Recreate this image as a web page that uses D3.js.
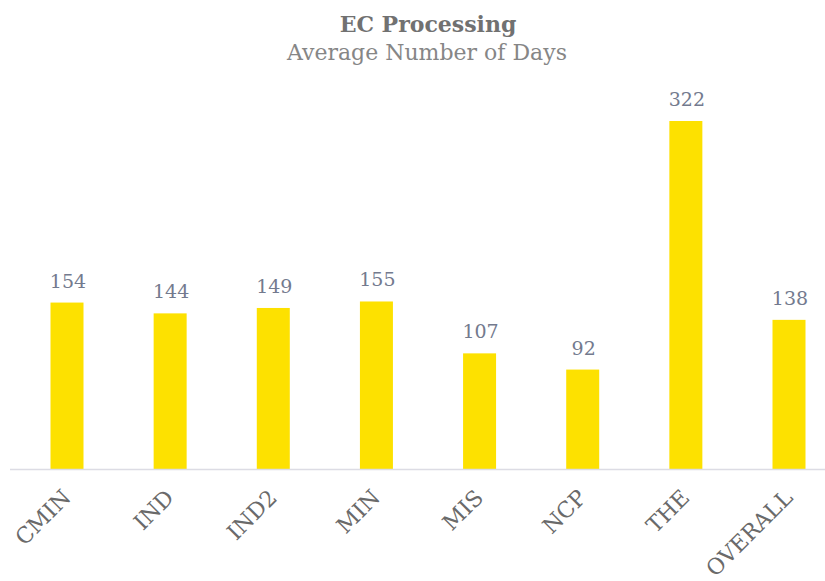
<!DOCTYPE html>
<html>
<head>
<meta charset="utf-8">
<script src="https://cdn.jsdelivr.net/npm/d3@7"></script>
<style>
  body { margin: 0; background: #fff; }
  svg { display: block; }
</style>
</head>
<body>
<svg id="chart" width="825" height="581"></svg>
<script>
var categories = ["CMIN", "IND", "IND2", "MIN", "MIS", "NCP", "THE", "OVERALL"],
    days = [154, 144, 149, 155, 107, 92, 322, 138];

var width = 825,
    height = 581,
    baseY = 469,
    topY = 121,
    barWidth = 33,
    serif = "'DejaVu Serif', 'Liberation Serif', serif";

var svg = d3.select("#chart");

var x = d3.scalePoint()
    .domain(categories)
    .range([67, 789]);

var y = d3.scaleLinear()
    .domain([0, d3.max(days)])
    .range([baseY, topY]);

var data = categories.map(function(c, i) { return { cat: c, val: days[i] }; });

// title
svg.append("text")
    .attr("x", 428)
    .attr("y", 32)
    .attr("text-anchor", "middle")
    .attr("font-family", serif)
    .attr("font-weight", "bold")
    .attr("font-size", "22px")
    .attr("fill", "#717171")
    .text("EC Processing");

svg.append("text")
    .attr("x", 427)
    .attr("y", 60)
    .attr("text-anchor", "middle")
    .attr("font-family", serif)
    .attr("font-size", "22px")
    .attr("fill", "#868686")
    .text("Average Number of Days");

// bars
svg.selectAll("rect.bar")
    .data(data)
    .enter()
    .append("rect")
    .attr("class", "bar")
    .attr("x", function(d) { return x(d.cat) - barWidth / 2; })
    .attr("y", function(d) { return y(d.val); })
    .attr("width", barWidth)
    .attr("height", function(d) { return baseY - y(d.val); })
    .attr("fill", "#fde100");

// baseline
svg.append("line")
    .attr("x1", 10)
    .attr("x2", 825)
    .attr("y1", baseY + 0.5)
    .attr("y2", baseY + 0.5)
    .attr("stroke", "#dcdce4")
    .attr("stroke-width", 1.5);

// value labels
svg.selectAll("text.val")
    .data(data)
    .enter()
    .append("text")
    .attr("class", "val")
    .attr("x", function(d) { return x(d.cat) + 1; })
    .attr("y", function(d) { return y(d.val) - 15; })
    .attr("text-anchor", "middle")
    .attr("font-family", serif)
    .attr("font-size", "19px")
    .attr("fill", "#737a8e")
    .text(function(d) { return d.val; });

// category labels, rotated
svg.selectAll("text.cat")
    .data(data)
    .enter()
    .append("text")
    .attr("class", "cat")
    .attr("text-anchor", "end")
    .attr("font-family", serif)
    .attr("font-size", "22px")
    .attr("fill", "#6a6a6a")
    .attr("transform", function(d) {
        return "translate(" + (x(d.cat) + 5) + "," + (baseY + 30) + ") rotate(-45)";
    })
    .text(function(d) { return d.cat; });
</script>
</body>
</html>
